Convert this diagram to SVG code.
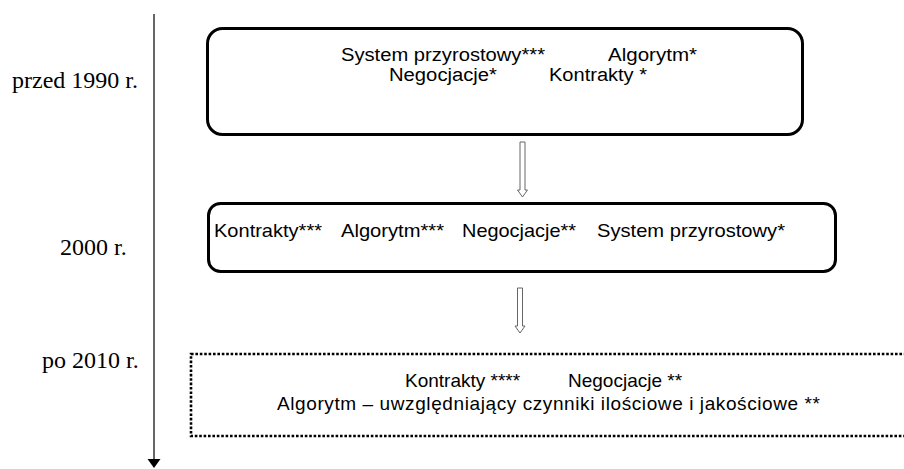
<svg xmlns="http://www.w3.org/2000/svg" width="904" height="469" viewBox="0 0 904 469">
<style>
.box{fill:#fff;stroke:#000;stroke-width:3}
.dot{fill:#fff;stroke:#000;stroke-width:2.6;stroke-dasharray:2.6 1.8}
.t{font-family:"Liberation Sans",Arial,sans-serif;font-size:19px;fill:#000}
.t1{font-family:"Liberation Sans",Arial,sans-serif;font-size:18px;fill:#000}
.lbl{font-family:"Liberation Serif","Times New Roman",serif;font-size:24px;fill:#000}
.hollow{fill:#fff;stroke:#666;stroke-width:1}
</style>
<rect width="904" height="469" fill="#fff"/>
<g id="timeline">
<line x1="154" y1="14" x2="154" y2="460" stroke="#000" stroke-width="1.2"/>
<polygon points="147.5,459 160.5,459 154,468" fill="#000"/>
<text class="lbl" x="12" y="88">przed 1990 r.</text>
<text class="lbl" x="60" y="255">2000 r.</text>
<text class="lbl" x="42" y="368">po 2010 r.</text>
</g>
<g id="connectors">
<polygon class="hollow" points="520,142 525,142 525,190 527.5,190 522.5,197 517.5,190 520,190"/>
<polygon class="hollow" points="517.5,288 522.5,288 522.5,326 525,326 520,333 515,326 517.5,326"/>
</g>
<g id="node-1990">
<rect class="box" x="207.5" y="28.5" width="595" height="106" rx="15"/>
<text class="t1" x="341" y="61" textLength="204" lengthAdjust="spacingAndGlyphs">System przyrostowy***</text>
<text class="t1" x="608" y="61" textLength="89" lengthAdjust="spacingAndGlyphs">Algorytm*</text>
<text class="t1" x="389" y="81" textLength="108" lengthAdjust="spacingAndGlyphs">Negocjacje*</text>
<text class="t1" x="549" y="81" textLength="98" lengthAdjust="spacingAndGlyphs">Kontrakty *</text>
</g>
<g id="node-2000">
<rect class="box" x="208.5" y="203.5" width="627" height="68" rx="12"/>
<text class="t" x="214" y="237" textLength="108" lengthAdjust="spacingAndGlyphs">Kontrakty***</text>
<text class="t" x="341" y="237" textLength="103" lengthAdjust="spacingAndGlyphs">Algorytm***</text>
<text class="t" x="462" y="237" textLength="114" lengthAdjust="spacingAndGlyphs">Negocjacje**</text>
<text class="t" x="597" y="237" textLength="188" lengthAdjust="spacingAndGlyphs">System przyrostowy*</text>
</g>
<g id="node-2010">
<rect class="dot" x="191" y="354" width="730" height="82"/>
<text class="t" x="405" y="387">Kontrakty ****</text>
<text class="t" x="568" y="387">Negocjacje **</text>
<text class="t" x="277" y="410" textLength="543" lengthAdjust="spacing">Algorytm – uwzględniający czynniki ilościowe i jakościowe **</text>
</g>
</svg>
